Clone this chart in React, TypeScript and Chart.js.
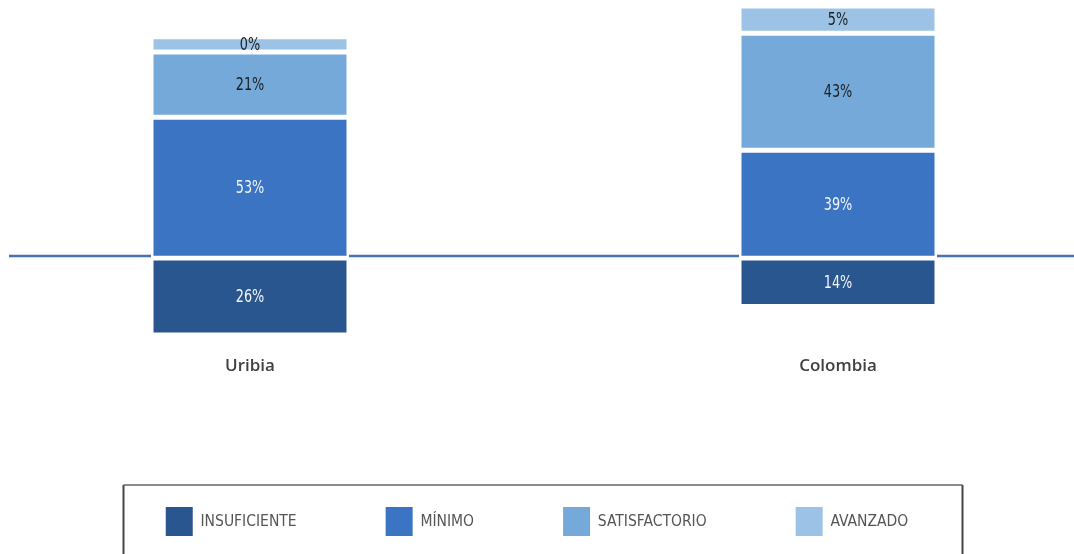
import React, { useEffect, useRef } from 'react';
import { Chart, registerables } from 'chart.js';

Chart.register(...registerables);

// ---- data ----
const categories = ['Uribia', 'Colombia'];
const seriesNames = ['INSUFICIENTE', 'MÍNIMO', 'SATISFACTORIO', 'AVANZADO'];
const insuficiente = [26, 14];
const minimo = [53, 39];
const satisfactorio = [21, 43];
const avanzado = [0, 5];

// ---- style / layout ----
const seriesColors = ['#2A568F', '#3A74C2', '#75A9DA', '#9CC3E5'];
const labelColors = ['#F2F5FA', '#F2F5FA', '#1E1E1E', '#1E1E1E'];
const NARROW = "'Liberation Sans Narrow', 'DejaVu Sans Condensed', 'Arial Narrow', sans-serif";
const Y_MIN = -38;
const Y_MAX = 109;
// the original chart gives every segment a constant extra band so tiny shares stay visible
const BAND = 6.5;
const CANVAS_LEFT = -58; // canvas is wider than the page so the two categories sit where the original has them
const CANVAS_W = 1190;

const segmentLabels = {
  id: 'segmentLabels',
  afterDatasetsDraw(chart: any) {
    const ctx = chart.ctx;
    chart.data.datasets.forEach((ds: any, di: number) => {
      const meta = chart.getDatasetMeta(di);
      meta.data.forEach((el: any, i: number) => {
        const props = el.getProps(['x', 'y', 'base'], true);
        ctx.save();
        ctx.font = `17px ${NARROW}`;
        ctx.textAlign = 'center';
        ctx.textBaseline = 'middle';
        ctx.fillStyle = labelColors[di];
        ctx.translate(props.x, (props.y + props.base) / 2 + 1);
        ctx.scale(0.84, 1);
        ctx.fillText(`${ds.pct[i]}%`, 0, 0);
        ctx.restore();
      });
    });
  },
};

const zeroLine = {
  id: 'zeroLine',
  beforeDatasetsDraw(chart: any) {
    const ctx = chart.ctx;
    const y = chart.scales.y.getPixelForValue(0) - 2;
    ctx.save();
    ctx.strokeStyle = '#4872AE';
    ctx.lineWidth = 2.5;
    ctx.beginPath();
    ctx.moveTo(9 - CANVAS_LEFT, y);
    ctx.lineTo(chart.width, y);
    ctx.stroke();
    ctx.restore();
  },
};

const legendFrame = {
  id: 'legendFrame',
  afterDraw(chart: any) {
    const ctx = chart.ctx;
    const left = 123.5 - CANVAS_LEFT;
    const right = 962.5 - CANVAS_LEFT;
    const top = 485;
    const bottom = chart.height + 5;
    ctx.save();
    ctx.lineWidth = 2;
    ctx.strokeStyle = '#8C8C8C';
    ctx.beginPath();
    ctx.moveTo(left, top);
    ctx.lineTo(right, top);
    ctx.stroke();
    ctx.strokeStyle = '#454545';
    ctx.beginPath();
    ctx.moveTo(left, top);
    ctx.lineTo(left, bottom);
    ctx.moveTo(right, top);
    ctx.lineTo(right, bottom);
    ctx.stroke();
    ctx.restore();
  },
};

export default function App() {
  const ref = useRef<HTMLCanvasElement>(null);

  useEffect(() => {
    if (!ref.current) return;
    const series = [insuficiente, minimo, satisfactorio, avanzado];
    const chart = new Chart(ref.current, {
      type: 'bar',
      data: {
        labels: categories,
        datasets: series.map((vals, si) => ({
          label: seriesNames[si],
          data: vals.map((v) => (si === 0 ? -(v + BAND) : v + BAND)),
          pct: vals,
          backgroundColor: seriesColors[si],
          borderColor: '#FFFFFF',
          borderWidth: 2.5,
          borderSkipped: false,
          barPercentage: 0.3367,
          categoryPercentage: 1,
        })) as any,
      },
      options: {
        responsive: false,
        animation: false,
        layout: { padding: { top: 0, bottom: 8, left: 0, right: 0 } },
        scales: {
          x: {
            stacked: true,
            grid: { display: false, drawTicks: false },
            border: { display: false },
            ticks: {
              padding: 8,
              color: '#404040',
              font: { family: "'Open Sans', 'DejaVu Sans', sans-serif", size: 17, weight: 600 },
            },
            afterFit: (scale: any) => {
              scale.height = 70;
            },
          },
          y: {
            stacked: true,
            display: true,
            min: Y_MIN,
            max: Y_MAX,
            grid: { display: false, drawTicks: false },
            border: { display: false },
            ticks: { display: false },
            afterFit: (scale: any) => {
              scale.width = 14;
            },
          },
        },
        plugins: {
          tooltip: { enabled: false },
          legend: {
            position: 'bottom',
            labels: {
              boxWidth: 27,
              boxHeight: 29,
              padding: 89,
              color: '#555555',
              font: { family: "'DejaVu Sans Condensed', sans-serif", size: 15.5 },
              generateLabels: (c: any) =>
                c.data.datasets.map((ds: any, i: number) => ({
                  text: ds.label,
                  fillStyle: ds.backgroundColor,
                  strokeStyle: 'rgba(0,0,0,0)',
                  lineWidth: 0,
                  fontColor: '#555555',
                  hidden: false,
                  datasetIndex: i,
                })),
            },
          },
        },
      },
      plugins: [zeroLine, segmentLabels, legendFrame],
    });
    return () => chart.destroy();
  }, []);

  return (
    <div style={{ position: 'absolute', left: 0, top: 0, width: 1074, height: 554, overflow: 'hidden', background: '#FFFFFF' }}>
      <canvas ref={ref} width={CANVAS_W} height={554} style={{ position: 'absolute', left: CANVAS_LEFT, top: 0 }} />
    </div>
  );
}
